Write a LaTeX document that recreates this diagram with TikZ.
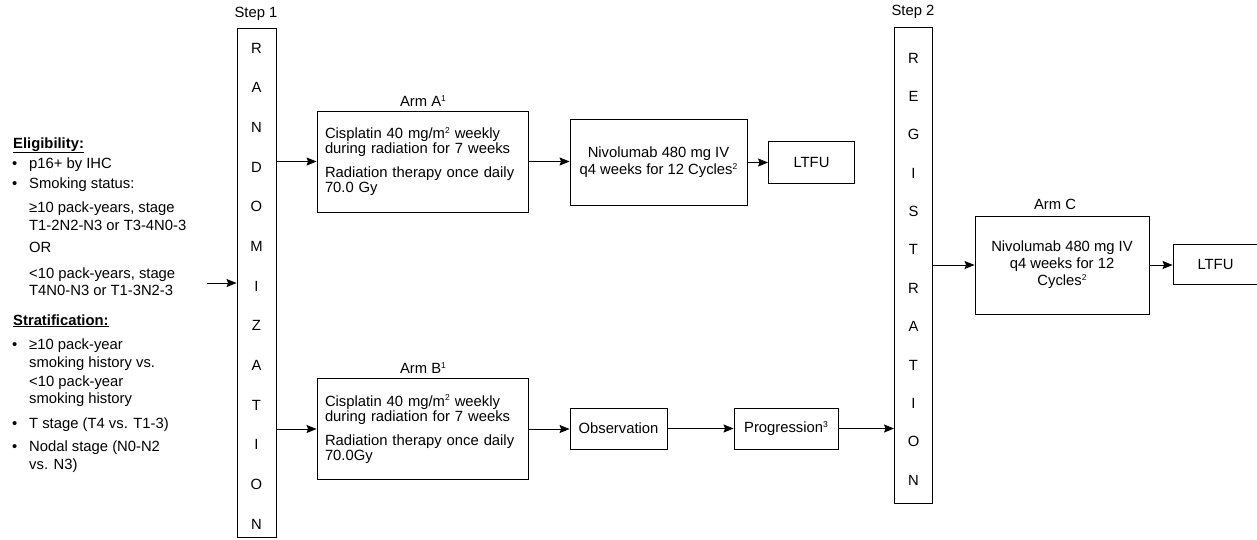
\documentclass[tikz,border=0pt]{standalone}
\usepackage{fontspec}
\setmainfont{Liberation Sans}
\usetikzlibrary{arrows.meta}
\newcommand\myfs{\fontsize{14.8}{17}\selectfont}
\newcommand\mysup[1]{\raisebox{5.5pt}{\fontsize{8.5}{9}\selectfont #1}}
\tikzset{
  box/.style={draw, line width=0.9pt, rectangle, inner sep=0pt, font=\myfs},
  armbox/.style={box, text width=195pt, minimum height=101pt, align=left, inner xsep=8pt, font={\fontsize{14.8}{15}\selectfont}},
  arr/.style={-{Stealth[length=10pt,width=8pt,inset=1.5pt]}, line width=0.9pt},
  lbl/.style={inner sep=0pt, font=\myfs},
  txt/.style={anchor=base west, inner sep=0pt, font=\myfs},
}
\begin{document}
\begin{tikzpicture}[x=1pt,y=-1pt]
\useasboundingbox (0,0) rectangle (1257,539);
\clip (0,0) rectangle (1257,539);

% Step columns
\node[lbl] (step1) at (256,14) {Step 1};
\node[box, minimum width=39pt, minimum height=509pt] (rand) at (256.5,282.5) {};
\node[lbl, align=center, font={\fontsize{14.8}{39.67}\selectfont}] (randtxt) at (256.5,286) {R\\A\\N\\D\\O\\M\\I\\Z\\A\\T\\I\\O\\N};

\node[lbl] (step2) at (913,12) {Step 2};
\node[box, minimum width=38pt, minimum height=476pt] (reg) at (913.5,265) {};
\node[lbl, align=center, font={\fontsize{14.8}{38.36}\selectfont}] (regtxt) at (913.5,269) {R\\E\\G\\I\\S\\T\\R\\A\\T\\I\\O\\N};

% Arm A
\node[lbl] (armAlbl) at (423,101) {Arm A\mysup{1}};
\node[armbox] (armA) at (422.5,161.5) {Cisplatin 40 mg/m\mysup{2} weekly\\during radiation for 7 weeks\\[9pt]Radiation therapy once daily\\70.0 Gy};
\node[box, minimum width=177pt, minimum height=86pt, align=center] (niv) at (658.5,162.5) {Nivolumab 480 mg IV\\q4 weeks for 12 Cycles\mysup{2}};
\node[box, minimum width=86pt, minimum height=42pt] (ltfuA) at (811.5,162) {LTFU};

% Arm B
\node[lbl] (armBlbl) at (423,368) {Arm B\mysup{1}};
\node[armbox] (armB) at (422.5,429) {Cisplatin 40 mg/m\mysup{2} weekly\\during radiation for 7 weeks\\[9pt]Radiation therapy once daily\\70.0Gy};
\node[box, minimum width=97pt, minimum height=41pt] (obs) at (618.5,428.5) {Observation};
\node[box, minimum width=104pt, minimum height=41pt] (prog) at (786,428.5) {Progression\mysup{3}};

% Arm C
\node[lbl] (armClbl) at (1055,204) {Arm C};
\node[box, minimum width=174pt, minimum height=98pt, align=center] (armC) at (1062,265) {Nivolumab 480 mg IV\\q4 weeks for 12\\Cycles\mysup{2}};
\node[box, minimum width=85pt, minimum height=40pt] (ltfuC) at (1215.5,264) {LTFU};

% Eligibility text
\node[txt] (e1) at (13,148) {\underline{\textbf{Eligibility:}}};
\node[txt] (b1) at (12,168) {•};
\node[txt] (e2) at (29,168) {p16+ by IHC};
\node[txt] (b2) at (12,188) {•};
\node[txt] (e3) at (29,188) {Smoking status:};
\node[txt] (e4) at (29,212) {≥10 pack-years, stage};
\node[txt] (e5) at (29,230) {T1-2N2-N3 or T3-4N0-3};
\node[txt] (e6) at (29,252) {OR};
\node[txt] (e7) at (29,278) {<10 pack-years, stage};
\node[txt] (e8) at (29,295) {T4N0-N3 or T1-3N2-3};
\node[txt] (s1) at (13,325) {\underline{\textbf{Stratification:}}};
\node[txt] (b3) at (12,349) {•};
\node[txt] (s2) at (29,349) {≥10 pack-year};
\node[txt] (s3) at (29,367) {smoking history vs.};
\node[txt] (s4) at (29,386) {<10 pack-year};
\node[txt] (s5) at (29,403) {smoking history};
\node[txt] (b4) at (12,428) {•};
\node[txt] (s6) at (29,428) {T stage (T4 vs. T1-3)};
\node[txt] (b5) at (12,451) {•};
\node[txt] (s7) at (29,451) {Nodal stage (N0-N2};
\node[txt] (s8) at (29,469) {vs. N3)};

\coordinate (elig) at (207,283);

% Connectors
\draw[arr] (elig) -- (elig -| rand.west);
\draw[arr] (armA.west -| rand.east) -- (armA.west);
\draw[arr] (armA.east) -- (armA.east -| niv.west);
\draw[arr] (niv.east) -- (niv.east -| ltfuA.west);
\draw[arr] (armB.west -| rand.east) -- (armB.west);
\draw[arr] (armB.east) -- (armB.east -| obs.west);
\draw[arr] (obs.east) -- (prog.west);
\draw[arr] (prog.east) -- (prog.east -| reg.west);
\draw[arr] (armC.west -| reg.east) -- (armC.west);
\draw[arr] (armC.east) -- (armC.east -| ltfuC.west);
\end{tikzpicture}
\end{document}
